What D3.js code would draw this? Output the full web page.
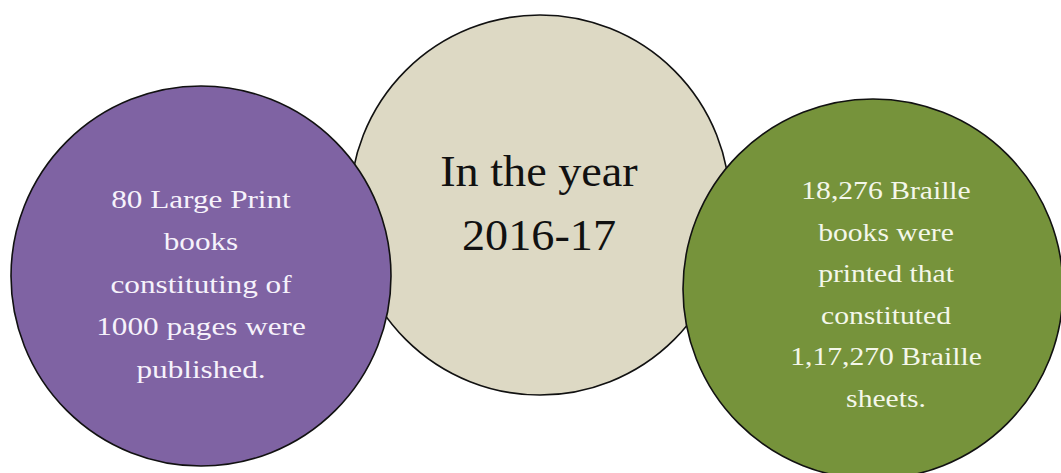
<!DOCTYPE html>
<html>
<head>
<meta charset="utf-8">
<script src="https://cdn.jsdelivr.net/npm/d3@7"></script>
<style>
  body { margin: 0; background: #fff; }
  svg { display: block; }
</style>
</head>
<body>
<div id="plothere"></div>
<script>
// the three bubbles, in drawing order (middle one sits underneath)
var names = ["year", "largeprint", "braille"];
var fills = ["#ddd9c4", "#7f63a3", "#76933b"];
var textColors = ["#111111", "#f6f2fb", "#f4f7ea"];
var labels = [
  ["In the year", "2016-17"],
  ["80 Large Print", "books", "constituting of", "1000 pages were", "published."],
  ["18,276 Braille", "books were", "printed that", "constituted", "1,17,270 Braille", "sheets."]
];

var width = 1061, height = 473;

// layout per bubble
var order = ["largeprint", "year", "braille"];
var cyOf = {year: 205, largeprint: 276, braille: 289};
var textDx = {year: 2, largeprint: 0, braille: 13};
var firstBase = {year: 186, largeprint: 208, braille: 199};
var lineGap = {year: 64, largeprint: 42.5, braille: 41.6};
var fontSize = {year: 44, largeprint: 26, braille: 26};
var stretch = {year: 1.05, largeprint: 1.2, braille: 1.14};
var r = 190;

var x = d3.scalePoint()
  .domain(order)
  .range([201, 873]);

var bubbles = names.map(function(n, i) {
  return {name: n, fill: fills[i], color: textColors[i], lines: labels[i]};
});

var svg = d3.select("#plothere")
  .append("svg")
  .attr("width", width)
  .attr("height", height);

var g = svg.selectAll("g.bubble")
  .data(bubbles)
  .enter()
  .append("g")
  .attr("class", "bubble");

g.append("circle")
  .attr("cx", function(d) { return d.name == "year" ? x(d.name) + 3 : x(d.name); })
  .attr("cy", function(d) { return cyOf[d.name]; })
  .attr("r", r)
  .style("fill", function(d) { return d.fill; })
  .style("stroke", "#111")
  .style("stroke-width", 1.6);

g.append("g")
  .attr("transform", function(d) {
    return "translate(" + (x(d.name) + textDx[d.name]) + ",0) scale(" + stretch[d.name] + ",1)";
  })
  .selectAll("text")
  .data(function(d) {
    return d.lines.map(function(t, i) { return {t: t, i: i, b: d}; });
  })
  .enter()
  .append("text")
  .attr("x", 0)
  .attr("y", function(d) { return firstBase[d.b.name] + d.i * lineGap[d.b.name]; })
  .attr("text-anchor", "middle")
  .style("font-family", "'Liberation Serif', 'Times New Roman', serif")
  .style("font-size", function(d) { return fontSize[d.b.name] + "px"; })
  .style("fill", function(d) { return d.b.color; })
  .text(function(d) { return d.t; });
</script>
</body>
</html>
